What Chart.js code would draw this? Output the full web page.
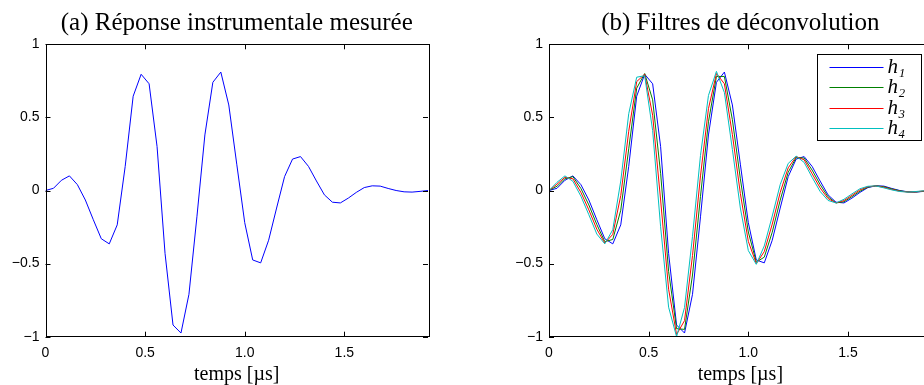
<!DOCTYPE html>
<html>
<head>
<meta charset="utf-8">
<script src="https://cdn.jsdelivr.net/npm/chart.js@4.4.1/dist/chart.umd.min.js"></script>
<style>
  html, body { margin: 0; padding: 0; background: #fff; overflow: hidden; }
  #wrap { position: relative; width: 924px; height: 385px; overflow: hidden; }
  #left { position: absolute; left: 0; top: 0; }
  #right { position: absolute; left: 462px; top: 0; }
</style>
</head>
<body>
<div id="wrap">
  <canvas id="left" width="462" height="385"></canvas>
  <canvas id="right" width="480" height="385"></canvas>
</div>
<script>
// time axis, µs
const temps = [0, 0.04, 0.08, 0.12, 0.16, 0.2, 0.24, 0.28, 0.32, 0.36, 0.4, 0.44, 0.48, 0.52, 0.56, 0.6,
  0.64, 0.68, 0.72, 0.76, 0.8, 0.84, 0.88, 0.92, 0.96, 1, 1.04, 1.08, 1.12, 1.16, 1.2, 1.24, 1.28, 1.32,
  1.36, 1.4, 1.44, 1.48, 1.52, 1.56, 1.6, 1.64, 1.68, 1.72, 1.76, 1.8, 1.84, 1.88, 1.92];

// (a) measured instrument response = h1
const h1 = [0, 0.015, 0.07, 0.10, 0.04, -0.065, -0.20, -0.33, -0.365, -0.235, 0.165, 0.645, 0.795, 0.73,
  0.30, -0.43, -0.92, -0.975, -0.71, -0.18, 0.38, 0.74, 0.81, 0.585, 0.18, -0.22, -0.475, -0.495, -0.34,
  -0.12, 0.095, 0.215, 0.232, 0.165, 0.065, -0.03, -0.08, -0.085, -0.052, -0.013, 0.02, 0.032, 0.03,
  0.014, 0, -0.009, -0.011, -0.006, 0];
const h2 = [0, 0.029, 0.08, 0.095, 0.014, -0.099, -0.233, -0.35, -0.335, -0.135, 0.285, 0.70, 0.80, 0.62,
  0.118, -0.553, -0.945, -0.95, -0.578, -0.04, 0.47, 0.78, 0.78, 0.484, 0.08, -0.284, -0.49, -0.456, -0.285,
  -0.066, 0.125, 0.225, 0.222, 0.14, 0.041, -0.043, -0.085, -0.077, -0.042, -0.005, 0.023, 0.032, 0.026,
  0.011, -0.002, -0.01, -0.01, -0.005, 0];
const h3 = [0, 0.043, 0.09, 0.08, -0.013, -0.133, -0.265, -0.36, -0.30, -0.035, 0.405, 0.745, 0.795, 0.515,
  -0.065, -0.675, -0.985, -0.89, -0.445, 0.10, 0.56, 0.80, 0.73, 0.383, -0.02, -0.348, -0.50, -0.418, -0.23,
  -0.013, 0.155, 0.232, 0.21, 0.115, 0.018, -0.055, -0.085, -0.069, -0.033, 0.004, 0.026, 0.031, 0.022,
  0.007, -0.005, -0.01, -0.009, -0.003, 0];
const h4 = [0, 0.056, 0.10, 0.063, -0.039, -0.166, -0.298, -0.365, -0.268, 0.065, 0.525, 0.775, 0.785, 0.41,
  -0.248, -0.798, -1.0, -0.80, -0.313, 0.24, 0.65, 0.815, 0.67, 0.281, -0.12, -0.411, -0.505, -0.379, -0.175,
  0.041, 0.185, 0.235, 0.192, 0.09, -0.006, -0.068, -0.085, -0.06, -0.023, 0.012, 0.029, 0.031, 0.018,
  0.004, -0.007, -0.011, -0.007, -0.002, 0];

const labels = ['h\u2081', 'h\u2082', 'h\u2083', 'h\u2084'];
const colors = ['#0000ff', '#008000', '#ff0000', '#00bfbf'];
const xTicks = [0, 0.5, 1, 1.5];
const yTicks = [-1, -0.5, 0, 0.5, 1];

const serif = '"Liberation Serif", "Times New Roman", serif';
const sans = '"Liberation Sans", Arial, sans-serif';

const pts = (ys) => ys.map((v, i) => ({ x: temps[i], y: v }));

// matlab style box with inward ticks on all four sides
const frame = {
  id: 'frame',
  afterDatasetsDraw(chart) {
    const { ctx, chartArea: a, scales: { x, y } } = chart;
    const r = (v) => Math.round(v) + 0.5;
    ctx.save();
    ctx.strokeStyle = '#000';
    ctx.lineWidth = 1;
    ctx.beginPath();
    xTicks.forEach((t) => {
      const px = r(x.getPixelForValue(t));
      ctx.moveTo(px, a.bottom); ctx.lineTo(px, a.bottom - 5);
      ctx.moveTo(px, a.top); ctx.lineTo(px, a.top + 5);
    });
    yTicks.forEach((t) => {
      const py = r(y.getPixelForValue(t));
      ctx.moveTo(a.left, py); ctx.lineTo(a.left + 5, py);
      ctx.moveTo(a.right, py); ctx.lineTo(a.right - 5, py);
    });
    ctx.stroke();
    ctx.strokeRect(r(a.left), r(a.top), Math.round(a.width), Math.round(a.height));
    ctx.restore();
  }
};

const boxLegend = {
  id: 'boxLegend',
  afterDraw(chart) {
    const { ctx, chartArea: a } = chart;
    const w = 104, h = 86, rowH = 20.6;
    const left = Math.round(a.right - 11 - w) + 0.5;
    const top = Math.round(a.top + 10) + 0.5;
    ctx.save();
    ctx.fillStyle = '#fff';
    ctx.fillRect(left, top, w, h);
    ctx.strokeStyle = '#000';
    ctx.lineWidth = 1;
    ctx.strokeRect(left, top, w, h);
    chart.data.datasets.forEach((ds, i) => {
      const yy = Math.round(top + 12 + i * rowH) + 0.5;
      ctx.strokeStyle = ds.borderColor;
      ctx.beginPath();
      ctx.moveTo(left + 12, yy);
      ctx.lineTo(left + 66, yy);
      ctx.stroke();
      ctx.fillStyle = '#000';
      ctx.font = 'italic 21px ' + serif;
      ctx.textBaseline = 'middle';
      ctx.fillText(ds.label, left + 70, yy);
    });
    ctx.restore();
  }
};

function opts(title, yWidth, padRight) {
  return {
    responsive: false,
    animation: false,
    devicePixelRatio: 1,
    layout: { padding: { left: 0, right: padRight, top: 0, bottom: 0 } },
    plugins: {
      legend: { display: false },
      tooltip: { enabled: false },
      title: {
        display: true,
        text: title,
        fullSize: false,
        color: '#000',
        font: { family: serif, size: 25, weight: 'normal', lineHeight: 1.2 },
        padding: { top: 8, bottom: 6.3 }
      }
    },
    scales: {
      x: {
        type: 'linear',
        min: 0,
        max: 1.92,
        afterBuildTicks: (s) => { s.ticks = xTicks.map((v) => ({ value: v })); },
        afterFit: (s) => { s.height = 48.3; },
        grid: { display: false, drawTicks: false },
        border: { display: false },
        ticks: { color: '#000', padding: 8, font: { family: sans, size: 14 } },
        title: {
          display: true,
          text: 'temps [\u00b5s]',
          color: '#000',
          font: { family: serif, size: 20, lineHeight: 1 },
          padding: { top: 0, bottom: 0 }
        }
      },
      y: {
        min: -1,
        max: 1,
        afterBuildTicks: (s) => { s.ticks = yTicks.map((v) => ({ value: v })); },
        afterFit: (s) => { s.width = yWidth; },
        grid: { display: false, drawTicks: false },
        border: { display: false },
        ticks: {
          color: '#000',
          padding: 6,
          font: { family: sans, size: 14 },
          callback: (v) => String(v).replace('-', '\u2212')
        }
      }
    }
  };
}

new Chart(document.getElementById('left'), {
  type: 'line',
  data: {
    datasets: [{
      label: labels[0],
      data: pts(h1),
      borderColor: colors[0],
      borderWidth: 1,
      pointRadius: 0,
      tension: 0
    }]
  },
  options: opts('(a) R\u00e9ponse instrumentale mesur\u00e9e', 45.5, 34),
  plugins: [frame]
});

new Chart(document.getElementById('right'), {
  type: 'line',
  data: {
    datasets: [h1, h2, h3, h4].map((s, i) => ({
      label: labels[i],
      data: pts(s),
      borderColor: colors[i],
      borderWidth: 1,
      pointRadius: 0,
      tension: 0,
      order: 4 - i
    }))
  },
  options: opts('(b) Filtres de d\u00e9convolution', 87, 10.3),
  plugins: [frame, boxLegend]
});
</script>
</body>
</html>
